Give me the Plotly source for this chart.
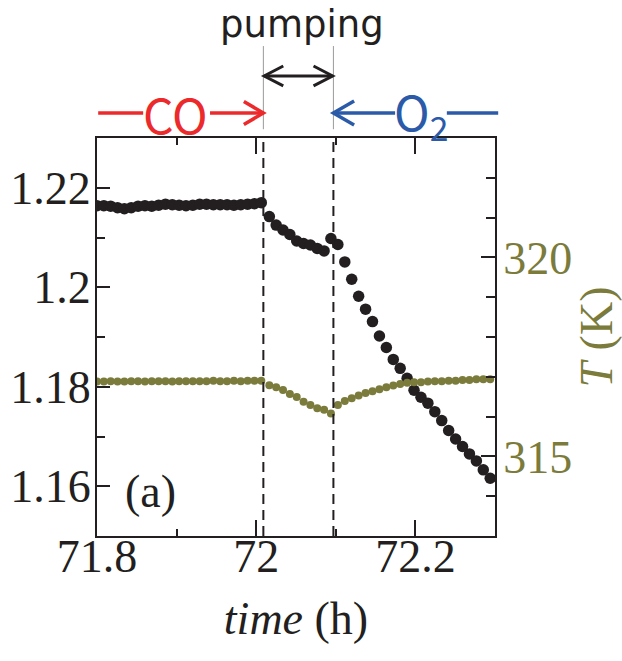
import plotly.graph_objects as go

# ---------------- data ----------------
time_h = [
    71.8000, 71.8086, 71.8172, 71.8258, 71.8344, 71.8430, 71.8516, 71.8602, 71.8688, 71.8774,
    71.8860, 71.8946, 71.9032, 71.9118, 71.9204, 71.9290, 71.9376, 71.9462, 71.9548, 71.9634,
    71.9720, 71.9806, 71.9892, 71.9978, 72.0064,
    72.0165, 72.0251, 72.0337, 72.0423, 72.0509, 72.0595, 72.0681, 72.0767, 72.0853,
    72.0939, 72.1026, 72.1113, 72.1200, 72.1287, 72.1374, 72.1461, 72.1548, 72.1635, 72.1722,
    72.1809, 72.1896, 72.1983, 72.2070, 72.2157, 72.2244, 72.2331, 72.2418, 72.2505, 72.2592,
    72.2679, 72.2766, 72.2853, 72.2940,
]
signal = [
    1.2164, 1.2164, 1.2163, 1.2160, 1.2158, 1.2160, 1.2163, 1.2164, 1.2163, 1.2165,
    1.2167, 1.2166, 1.2165, 1.2164, 1.2165, 1.2167, 1.2167, 1.2166, 1.2166, 1.2166,
    1.2165, 1.2166, 1.2167, 1.2168, 1.2170,
    1.2142, 1.2125, 1.2115, 1.2106, 1.2093, 1.2088, 1.2085, 1.2078, 1.2073,
    1.2098, 1.2086, 1.2051, 1.2016, 1.1982, 1.1956, 1.1931, 1.1902, 1.1879, 1.1855,
    1.1837, 1.1817, 1.1793, 1.1779, 1.1767, 1.1750, 1.1732, 1.1712, 1.1695, 1.1680,
    1.1665, 1.1651, 1.1633, 1.1616,
]
temperature_K = [
    316.88, 316.88, 316.89, 316.88, 316.88, 316.89, 316.89, 316.88, 316.89, 316.89,
    316.89, 316.88, 316.89, 316.89, 316.89, 316.89, 316.89, 316.90, 316.89, 316.89,
    316.90, 316.89, 316.90, 316.90, 316.90,
    316.79, 316.74, 316.67, 316.57, 316.49, 316.37, 316.29, 316.21, 316.17,
    316.08, 316.29, 316.39, 316.46, 316.53, 316.59, 316.64, 316.69, 316.74, 316.78,
    316.82, 316.85, 316.86, 316.86, 316.88, 316.89, 316.89, 316.90, 316.90, 316.92,
    316.92, 316.94, 316.94, 316.94,
]
switch_times = [72.009, 72.097]   # CO off / O2 on

x_range = [71.8, 72.3]
x_ticks = [71.8, 72.0, 72.2]
x_ticktext = ["71.8", "72", "72.2"]
y_range = [1.15, 1.23]
y_ticks = [1.16, 1.18, 1.20, 1.22]
y_ticktext = ["1.16", "1.18", "1.2", "1.22"]
t_range = [313, 323]
t_ticks = [315, 320]
t_ticktext = ["315", "320"]

# ---------------- style ----------------
BLACK = "#231f20"
OLIVE = "#7b7b3b"
RED = "#ec2a2c"
BLUE = "#2a5aa8"
SERIF = "Liberation Serif"
FS = 46

fig = go.Figure()
fig.add_trace(go.Scatter(x=time_h, y=signal, mode="markers",
                         marker=dict(size=11.5, color=BLACK, line=dict(width=0)),
                         yaxis="y", showlegend=False))
fig.add_trace(go.Scatter(x=time_h, y=temperature_K, mode="markers",
                         marker=dict(size=8, color=OLIVE, line=dict(width=0)),
                         yaxis="y2", showlegend=False))

# dashed switch lines inside plot
for t in switch_times:
    fig.add_shape(type="line", xref="x", yref="y", x0=t, x1=t, y0=y_range[0], y1=y_range[1],
                  line=dict(color=BLACK, width=2, dash="10px,6px"))

def xp(t):
    return (t - x_range[0]) / (x_range[1] - x_range[0])

# thin grey marker lines above plot
for t in switch_times:
    fig.add_shape(type="line", xref="paper", yref="paper", x0=xp(t), x1=xp(t),
                  y0=1.022, y1=1.231, line=dict(color="#9a9a9a", width=1))

# pumping double arrow
ya = 1.1558
xa0, xa1 = xp(switch_times[0]) + 0.002, xp(switch_times[1]) - 0.002
fig.add_shape(type="line", xref="paper", yref="paper", x0=xa0, x1=xa1, y0=ya, y1=ya,
              line=dict(color=BLACK, width=3))
fig.add_shape(type="path", xref="paper", yref="paper",
              path=f"M {xa0+0.048},{ya+0.025} L {xa0},{ya} L {xa0+0.048},{ya-0.025}",
              line=dict(color=BLACK, width=3))
fig.add_shape(type="path", xref="paper", yref="paper",
              path=f"M {xa1-0.048},{ya+0.025} L {xa1},{ya} L {xa1-0.048},{ya-0.025}",
              line=dict(color=BLACK, width=3))

# CO arrow (red)
yr = 1.0628
fig.add_shape(type="line", xref="paper", yref="paper", x0=0.003, x1=0.116, y0=yr, y1=yr,
              line=dict(color=RED, width=3.5))
red_tip = xp(switch_times[0])
fig.add_shape(type="line", xref="paper", yref="paper", x0=0.284, x1=red_tip, y0=yr, y1=yr,
              line=dict(color=RED, width=3.5))
fig.add_shape(type="path", xref="paper", yref="paper",
              path=f"M {red_tip-0.049},{yr+0.029} L {red_tip},{yr} L {red_tip-0.049},{yr-0.029}",
              line=dict(color=RED, width=3.5))

# O2 arrow (blue)
blue_tip = xp(switch_times[1])
fig.add_shape(type="line", xref="paper", yref="paper", x0=blue_tip, x1=0.749, y0=yr, y1=yr,
              line=dict(color=BLUE, width=3.5))
fig.add_shape(type="path", xref="paper", yref="paper",
              path=f"M {blue_tip+0.052},{yr+0.03} L {blue_tip},{yr} L {blue_tip+0.052},{yr-0.03}",
              line=dict(color=BLUE, width=3.5))
fig.add_shape(type="line", xref="paper", yref="paper", x0=0.879, x1=1.008, y0=yr, y1=yr,
              line=dict(color=BLUE, width=3.5))

fig.add_annotation(xref="paper", yref="paper", x=0.198, y=yr, text="CO", showarrow=False,
                   xanchor="center", yanchor="middle",
                   font=dict(family="Noto Sans CJK JP", size=48, color=RED))
fig.add_annotation(xref="paper", yref="paper", x=0.815, y=yr, text="O<sub>2</sub>", showarrow=False,
                   xanchor="center", yanchor="middle",
                   font=dict(family="Noto Sans CJK JP", size=48, color=BLUE))
fig.add_annotation(xref="paper", yref="paper", x=0.516, y=1.284, text="pumping", showarrow=False,
                   xanchor="center", yanchor="middle",
                   font=dict(family="DejaVu Sans", size=37, color=BLACK))
fig.add_annotation(xref="x", yref="y", x=71.867, y=1.1590, text="(a)", showarrow=False,
                   xanchor="center", yanchor="middle",
                   font=dict(family=SERIF, size=FS, color=BLACK))

axis_common = dict(showline=True, linewidth=2, linecolor=BLACK, ticks="inside",
                   tickwidth=2, tickcolor=BLACK, showgrid=False, zeroline=False,
                   automargin=False)

fig.update_layout(
    width=622, height=661,
    margin=dict(l=97, r=127, t=138, b=125),
    paper_bgcolor="white", plot_bgcolor="white",
    xaxis=dict(range=x_range, tickmode="array", tickvals=x_ticks, ticktext=x_ticktext,
               ticklen=16, mirror="ticks", ticklabelstandoff=-21,
               minor=dict(dtick=0.1, tick0=71.8, ticklen=7, tickwidth=2, ticks="inside", tickcolor=BLACK),
               tickfont=dict(family=SERIF, size=FS, color=BLACK),
               title=dict(text="<i>time</i> (h)", font=dict(family=SERIF, size=FS, color=BLACK), standoff=21),
               **axis_common),
    yaxis=dict(range=y_range, tickmode="array", tickvals=y_ticks, ticktext=y_ticktext,
               ticklen=13, mirror=False, ticklabelstandoff=-5,
               minor=dict(dtick=0.01, tick0=1.15, ticklen=8, tickwidth=2, ticks="inside", tickcolor=BLACK),
               tickfont=dict(family=SERIF, size=FS, color=BLACK),
               **axis_common),
    yaxis2=dict(range=t_range, overlaying="y", side="right", tickmode="array",
                tickvals=t_ticks, ticktext=t_ticktext, ticklen=14, ticklabelstandoff=-3,
                minor=dict(dtick=1, tick0=313, ticklen=9, tickwidth=2, ticks="inside", tickcolor=BLACK),
                tickfont=dict(family=SERIF, size=FS, color=OLIVE),
                title=dict(text="<i>T</i> (K)", font=dict(family=SERIF, size=FS, color=OLIVE), standoff=15),
                **axis_common),
)

fig.write_html("out.html")
